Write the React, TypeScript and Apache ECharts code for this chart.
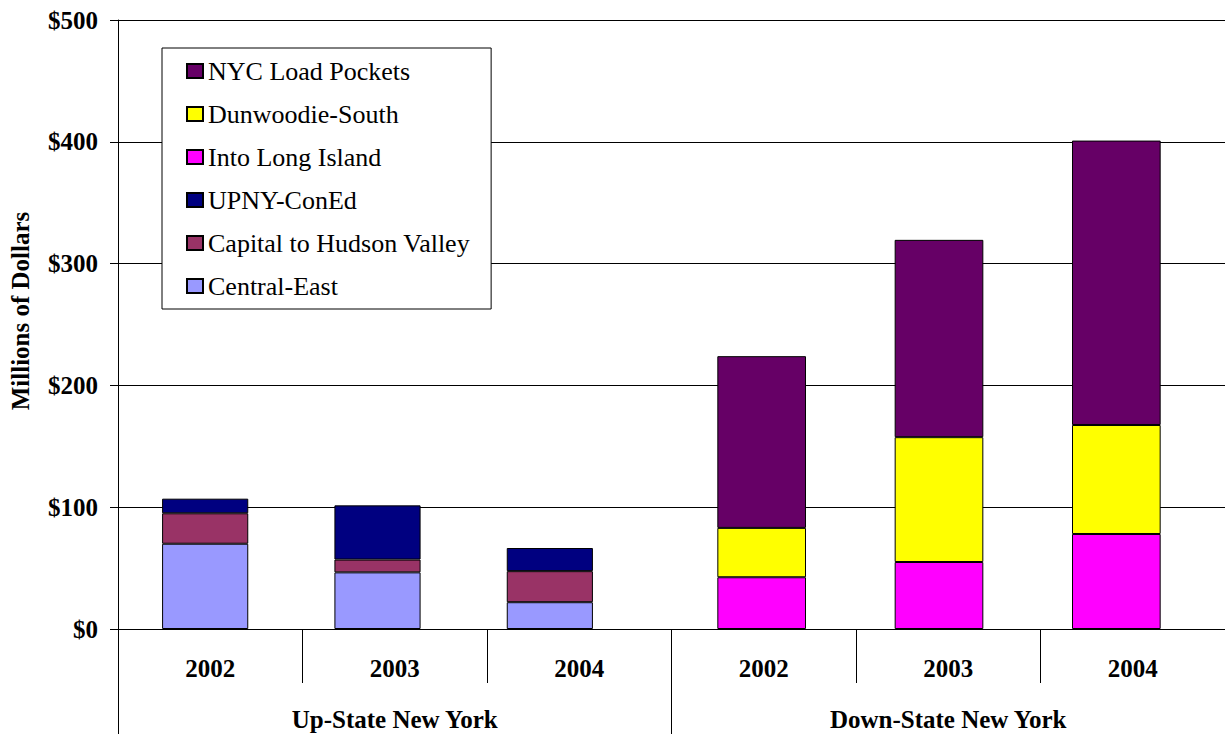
import React, { useEffect, useRef } from "react";
import * as echarts from "echarts";

const yearLabels = ["2002", "2003", "2004"];
const allYearLabels = ["2002", "2003", "2004", "2002", "2003", "2004"];
const regionLabels = ["Up-State New York", "Down-State New York"];
const yTicks = [0, 100, 200, 300, 400, 500];

// Up-State series (2002, 2003, 2004)
const centralEast = [70, 46.5, 22];
const capitalHudson = [25, 10.5, 25.5];
const upnyConEd = [12, 44.5, 19];
// Down-State series (2002, 2003, 2004)
const intoLongIsland = [42.5, 55, 78];
const dunwoodieSouth = [40.5, 102.5, 89.5];
const nycLoadPockets = [141, 162, 233.5];

const legendOrder = [
  "NYC Load Pockets",
  "Dunwoodie-South",
  "Into Long Island",
  "UPNY-ConEd",
  "Capital to Hudson Valley",
  "Central-East",
];

const FONT = "Liberation Serif";

export default function App() {
  const ref = useRef<HTMLDivElement>(null);
  useEffect(() => {
    if (!ref.current) return;
    const chart = echarts.init(ref.current, null, { renderer: "svg" });
    const barStyle = (color: string) => ({
      color,
      borderColor: "#000",
      borderWidth: 1,
    });
    const yMax = yTicks[yTicks.length - 1];
    chart.setOption({
      animation: false,
      backgroundColor: "#fff",
      textStyle: { fontFamily: FONT },
      grid: [
        { left: 118, top: 20, width: 1108, height: 609 },
        { left: 119, top: 20, width: 517, height: 609 },
        { left: 673, top: 20, width: 532, height: 609 },
      ],
      xAxis: [
        {
          type: "category",
          gridIndex: 0,
          data: allYearLabels,
          position: "bottom",
          axisLine: { show: true, lineStyle: { color: "#000", width: 1 } },
          axisTick: { show: true, interval: 0, length: 54, lineStyle: { color: "#000" } },
          axisLabel: {
            interval: 0,
            margin: 27,
            color: "#000",
            fontWeight: "bold",
            fontSize: 25,
            fontFamily: FONT,
          },
          splitLine: { show: false },
        },
        {
          type: "category",
          gridIndex: 0,
          data: regionLabels,
          position: "bottom",
          axisLine: { show: false },
          axisTick: { show: true, interval: 0, length: 106, lineStyle: { color: "#000" } },
          axisLabel: {
            interval: 0,
            margin: 78,
            color: "#000",
            fontWeight: "bold",
            fontSize: 25,
            fontFamily: FONT,
          },
          splitLine: { show: false },
        },
        { type: "category", gridIndex: 1, data: yearLabels, show: false },
        { type: "category", gridIndex: 2, data: yearLabels, show: false },
      ],
      yAxis: [
        {
          type: "value",
          gridIndex: 0,
          min: 0,
          max: yMax,
          interval: 100,
          axisLine: { show: true, lineStyle: { color: "#000", width: 1 } },
          axisTick: { show: true, length: 8, lineStyle: { color: "#000" } },
          axisLabel: {
            margin: 20,
            color: "#000",
            fontWeight: "bold",
            fontSize: 25,
            fontFamily: FONT,
            formatter: (v: number) => "$" + v,
          },
          splitLine: { show: true, lineStyle: { color: "#000", width: 1 } },
        },
        { type: "value", gridIndex: 1, min: 0, max: yMax, show: false },
        { type: "value", gridIndex: 2, min: 0, max: yMax, show: false },
      ],
      legend: {
        data: legendOrder,
        orient: "vertical",
        left: 162,
        top: 48,
        itemWidth: 16,
        itemHeight: 14,
        itemGap: 17,
        padding: [10, 21, 10, 24],
        backgroundColor: "#fff",
        borderColor: "#000",
        borderWidth: 1,
        borderRadius: 0,
        icon: "rect",
        selectedMode: false,
        textStyle: {
          color: "#000",
          fontSize: 26,
          fontFamily: FONT,
          fontWeight: "normal",
        },
      },
      graphic: [
        {
          type: "text",
          x: 20,
          y: 311,
          rotation: Math.PI / 2,
          style: {
            text: "Millions of Dollars",
            fontSize: 25,
            fontWeight: "bold",
            fontFamily: FONT,
            fill: "#000",
            align: "center",
            verticalAlign: "middle",
          },
        },
      ],
      series: [
        { name: "Central-East", type: "bar", stack: "up", xAxisIndex: 2, yAxisIndex: 1, barWidth: "50%", data: centralEast, itemStyle: barStyle("#9999FF") },
        { name: "Capital to Hudson Valley", type: "bar", stack: "up", xAxisIndex: 2, yAxisIndex: 1, barWidth: "50%", data: capitalHudson, itemStyle: barStyle("#993366") },
        { name: "UPNY-ConEd", type: "bar", stack: "up", xAxisIndex: 2, yAxisIndex: 1, barWidth: "50%", data: upnyConEd, itemStyle: barStyle("#000080") },
        { name: "Into Long Island", type: "bar", stack: "down", xAxisIndex: 3, yAxisIndex: 2, barWidth: "50%", data: intoLongIsland, itemStyle: barStyle("#FF00FF") },
        { name: "Dunwoodie-South", type: "bar", stack: "down", xAxisIndex: 3, yAxisIndex: 2, barWidth: "50%", data: dunwoodieSouth, itemStyle: barStyle("#FFFF00") },
        { name: "NYC Load Pockets", type: "bar", stack: "down", xAxisIndex: 3, yAxisIndex: 2, barWidth: "50%", data: nycLoadPockets, itemStyle: barStyle("#660066") },
      ],
    });
    return () => chart.dispose();
  }, []);
  return (
    <div
      ref={ref}
      style={{ position: "fixed", left: 0, top: 0, width: 1225, height: 734, background: "#fff" }}
    />
  );
}
